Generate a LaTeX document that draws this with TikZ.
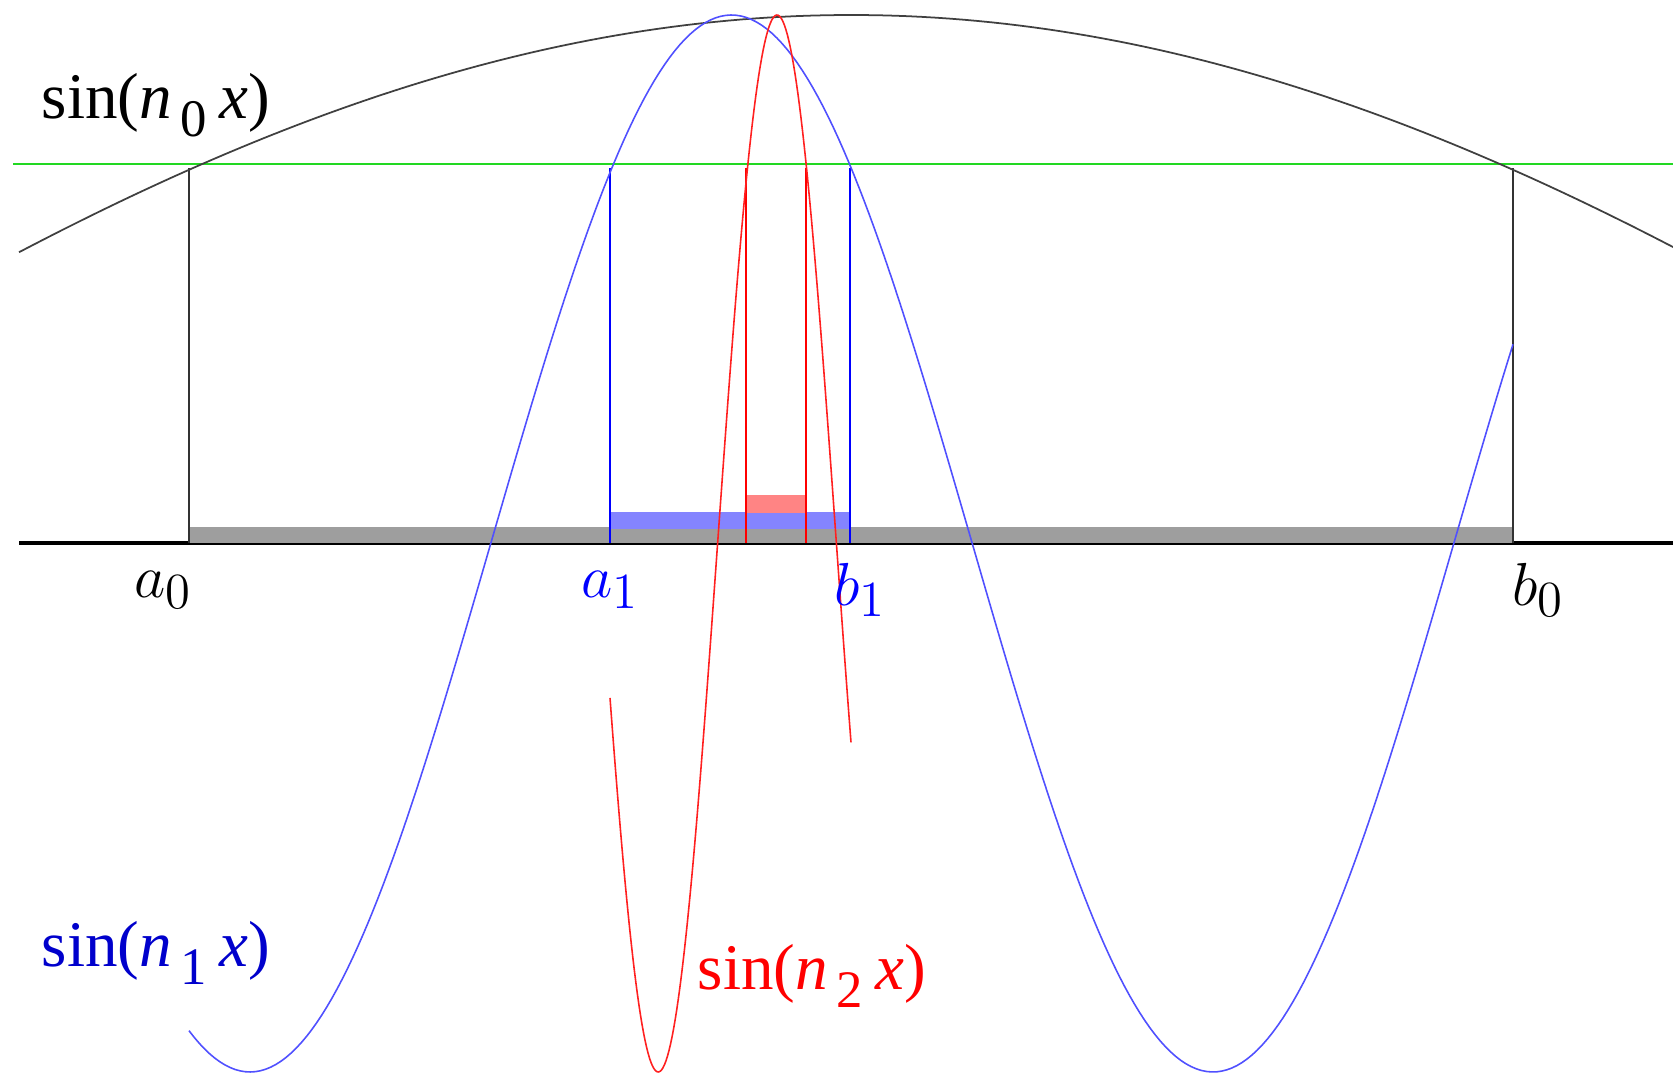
\documentclass[tikz,border=0pt]{standalone}
\usepackage{fontspec}
\usepackage{tikz}
\usetikzlibrary{positioning,calc}
\newfontfamily\timesfont{Liberation Serif}
\definecolor{levelgreen}{HTML}{22D822}
\definecolor{bargray}{HTML}{9E9E9E}
\definecolor{barblue}{HTML}{8484FF}
\definecolor{barred}{HTML}{FF8484}
\definecolor{curveblue}{HTML}{5050FF}
\definecolor{curvered}{HTML}{FF2020}
\definecolor{labelblue}{HTML}{0000CC}
\newcommand{\sinlabel}[1]{\timesfont sin(\textit{n}\kern2.5pt\raisebox{-0.6ex}{\fontsize{15}{15}\selectfont #1}\kern3.5pt\textit{x})}

\begin{document}
\begin{tikzpicture}[
    x=0.01cm, y=0.01cm,
    axisline/.style={draw=black, line width=1.3pt},
    level/.style={draw=levelgreen, line width=0.4pt},
    edge0/.style={draw=black!80, line width=0.6pt},
    edge1/.style={draw=blue, line width=0.6pt},
    edge2/.style={draw=red, line width=0.6pt},
    curve0/.style={draw=black!75, line width=0.5pt},
    curve1/.style={draw=curveblue, line width=0.45pt},
    curve2/.style={draw=curvered, line width=0.45pt},
    sinlbl/.style={inner sep=0pt, font=\fontsize{18.5}{22}\selectfont},
    endlbl/.style={inner sep=0pt, font=\fontsize{19}{22}\selectfont}
]
\useasboundingbox (0,0) rectangle (1673,1073);

% interval end points on the axis
\coordinate (a0) at (189,530);
\coordinate (b0) at (1513,530);
\coordinate (a1) at (610,530);
\coordinate (b1) at (850,530);
\coordinate (a2) at (746,530);
\coordinate (b2) at (806,530);
\coordinate (axisL) at (19,530);
\coordinate (axisR) at (1673,530);
\coordinate (levelL) at (13,909);
\coordinate (levelR) at (1673,909);

% axis and nested intervals
\draw [axisline] (axisL) -- (axisR);
\fill [bargray] (a0) rectangle ($(b0)+(0,16)$);
\fill [barblue] ($(a1)+(0,14)$) rectangle ($(b1)+(0,31)$);
\fill [barred] ($(a2)+(0,30)$) rectangle ($(b2)+(0,48)$);
\draw [level] (levelL) -- (levelR);

\foreach \p in {a0,b0} \draw [edge0] (\p) -- ($(\p)+(0,375)$);
\foreach \p in {a1,b1} \draw [edge1] (\p) -- ($(\p)+(0,375)$);
\foreach \p in {a2,b2} \draw [edge2] (\p) -- ($(\p)+(0,375)$);

% the three sine curves
\draw [curve0] plot [domain=19:1673, samples=120] (\x,{529.5+528.5*cos(0.06798*(\x-851))});
\draw [curve1] plot [domain=189:1513, samples=260] (\x,{529.5+528.5*cos(0.37383*(\x-731.5))});
\draw [curve2] plot [domain=610:851, samples=160] (\x,{529.5+528.5*cos(1.515*(\x-777))});

% labels
\node [sinlbl] (s0) at (156,968) {\sinlabel{0}};
\node [sinlbl, text=labelblue] (s1) at (156,120) {\sinlabel{1}};
\node [sinlbl, text=red] (s2) at (812,97) {\sinlabel{2}};

\node [endlbl] (la0) at (163,483) {$a_0$};
\node [endlbl] (lb0) at (1538,483) {$b_0$};
\node [endlbl, text=blue] (la1) at (610,483) {$a_1$};
\node [endlbl, text=blue] (lb1) at (860,483) {$b_1$};

\end{tikzpicture}
\end{document}
